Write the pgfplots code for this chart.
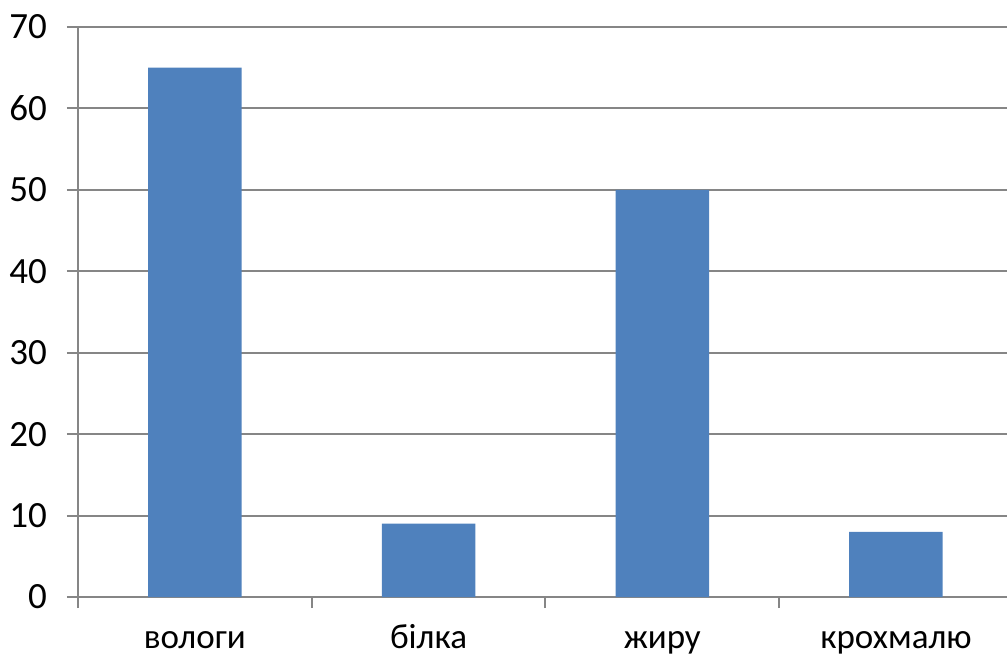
\documentclass[border=0pt]{standalone}
\usepackage{pgfplots}
\pgfplotsset{compat=1.18}
\usepackage{fontspec}
\setmainfont{Carlito}
\definecolor{barblue}{RGB}{79,129,189}
\definecolor{gridgray}{RGB}{134,134,134}
\begin{document}
\begin{tikzpicture}
\useasboundingbox (-39pt,-31.5pt) rectangle (464.5pt,298.5pt);
\begin{axis}[
  at={(0,0)}, anchor=south west,
  scale only axis,
  width=464.5pt, height=285pt,
  xmin=-0.5, xmax=3.475,
  ymin=0, ymax=70,
  ytick={0,10,...,70},
  xtick={0,1,2,3},
  xticklabels={вологи,білка,жиру,крохмалю},
  major x tick style={draw=none},
  minor xtick={-0.5,0.5,1.5,2.5},
  minor x tick style={draw=gridgray, line width=1pt},
  minor tick length=5.5pt,
  major tick length=5.5pt,
  tick align=outside,
  ymajorgrids,
  grid style={draw=gridgray, line width=1pt},
  axis x line*=bottom,
  axis y line*=left,
  axis line style={draw=gridgray, line width=1pt, -},
  y tick style={draw=gridgray, line width=1pt},
  yticklabel style={font=\fontsize{18.5}{22}\selectfont, text=black, xshift=-6.5pt},
  /pgf/number format/assume math mode=true,
  xticklabel style={font=\fontsize{17.5}{21}\selectfont, text=black, anchor=base, yshift=-20pt},
  ybar, bar width=0.40,
  clip=false,
]
\addplot[fill=barblue, draw=none] coordinates {(0,65) (1,9) (2,50) (3,8)};
\end{axis}
\end{tikzpicture}
\end{document}
